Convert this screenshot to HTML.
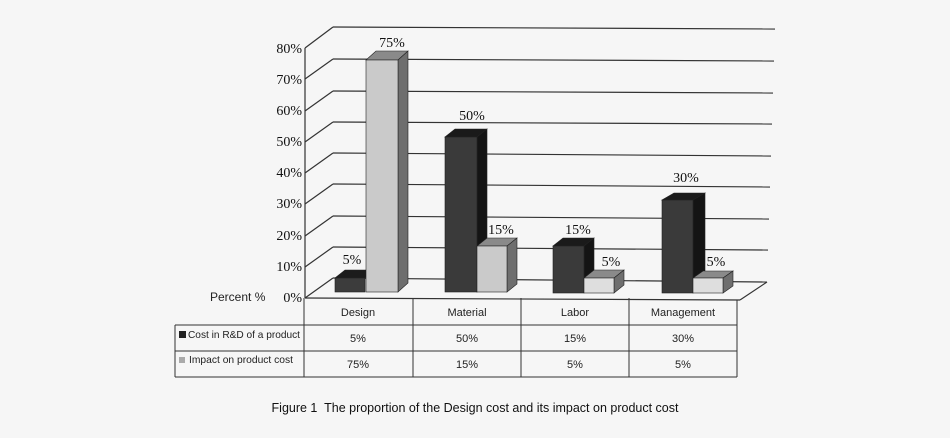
<!DOCTYPE html>
<html><head><meta charset="utf-8"><style>
html,body{margin:0;padding:0;background:#f6f6f6;}
svg{display:block}
.t{font-family:"Liberation Serif",serif;font-size:14px;fill:#111}
.s{font-family:"Liberation Sans",sans-serif;font-size:11px;fill:#222}
</style></head><body>
<svg width="950" height="438" viewBox="0 0 950 438">
<rect width="950" height="438" fill="#f6f6f6"/>
<g stroke="#333" stroke-width="1.2" fill="none">
<line x1="333" y1="27" x2="775" y2="29"/>
<line x1="333" y1="59" x2="774" y2="61"/>
<line x1="333" y1="91" x2="773" y2="93"/>
<line x1="333" y1="122" x2="772" y2="124"/>
<line x1="333" y1="153" x2="771" y2="156"/>
<line x1="333" y1="184" x2="770" y2="187"/>
<line x1="333" y1="216" x2="769" y2="219"/>
<line x1="333" y1="247" x2="768" y2="250"/>
<line x1="333" y1="278" x2="767" y2="282"/>
<line x1="305" y1="48" x2="333" y2="27"/>
<line x1="305" y1="79" x2="333" y2="59"/>
<line x1="305" y1="111" x2="333" y2="91"/>
<line x1="305" y1="142" x2="333" y2="122"/>
<line x1="305" y1="173" x2="333" y2="153"/>
<line x1="305" y1="204" x2="333" y2="184"/>
<line x1="305" y1="236" x2="333" y2="216"/>
<line x1="305" y1="267" x2="333" y2="247"/>
<line x1="305" y1="298" x2="333" y2="278"/>
<line x1="305" y1="48" x2="305" y2="298"/>
<line x1="305" y1="298" x2="740" y2="300"/>
<line x1="740" y1="300" x2="767" y2="282"/>
</g>
<g stroke="#222" stroke-width="0.6">
<polygon points="335,278 365,278 375,270 345,270" fill="#1c1c1c"/>
<rect x="335" y="278" width="30" height="14" fill="#3c3c3c"/>
<polygon points="366,60 398,60 408,51 376,51" fill="#8a8a8a"/>
<polygon points="398,60 408,51 408,283 398,292" fill="#6e6e6e"/>
<rect x="366" y="60" width="32" height="232" fill="#cacaca"/>
<polygon points="445,137 477,137 487,129 455,129" fill="#1a1a1a"/>
<polygon points="477,137 487,129 487,284 477,292" fill="#141414"/>
<rect x="445" y="137" width="32" height="155" fill="#3a3a3a"/>
<polygon points="477,246 507,246 517,238 487,238" fill="#8a8a8a"/>
<polygon points="507,246 517,238 517,284 507,292" fill="#6e6e6e"/>
<rect x="477" y="246" width="30" height="46" fill="#cacaca"/>
<polygon points="553,246 584,246 594,238 563,238" fill="#1a1a1a"/>
<polygon points="584,246 594,238 594,284 584,292" fill="#141414"/>
<rect x="553" y="246" width="31" height="47" fill="#3a3a3a"/>
<polygon points="584,278 614,278 624,270 594,270" fill="#8a8a8a"/>
<polygon points="614,278 624,270 624,285 614,293" fill="#6e6e6e"/>
<rect x="584" y="278" width="30" height="15" fill="#dedede"/>
<polygon points="662,200 693,200 705,193 674,193" fill="#1a1a1a"/>
<polygon points="693,200 705,193 705,285 693,293" fill="#141414"/>
<rect x="662" y="200" width="31" height="93" fill="#3a3a3a"/>
<polygon points="693,278 723,278 733,271 703,271" fill="#8a8a8a"/>
<polygon points="723,278 733,271 733,286 723,293" fill="#6e6e6e"/>
<rect x="693" y="278" width="30" height="15" fill="#dedede"/>
</g>
<g class="t" text-anchor="end">
<text x="302" y="53">80%</text><text x="302" y="84">70%</text>
<text x="302" y="115">60%</text><text x="302" y="146">50%</text>
<text x="302" y="177">40%</text><text x="302" y="208">30%</text>
<text x="302" y="240">20%</text><text x="302" y="271">10%</text>
<text x="302" y="302">0%</text>
</g>
<text class="s" x="210" y="301" style="font-size:12px">Percent %</text>
<g class="t" text-anchor="middle">
<text x="352" y="264">5%</text><text x="392" y="47">75%</text>
<text x="472" y="120">50%</text><text x="501" y="234">15%</text>
<text x="578" y="234">15%</text><text x="611" y="266">5%</text>
<text x="686" y="182">30%</text><text x="716" y="266">5%</text>
</g>
<g stroke="#333" stroke-width="1" fill="none">
<line x1="304" y1="298" x2="304" y2="377"/>
<line x1="413" y1="298" x2="413" y2="377"/>
<line x1="521" y1="298" x2="521" y2="377"/>
<line x1="629" y1="298" x2="629" y2="377"/>
<line x1="737" y1="300" x2="737" y2="377"/>
<line x1="175" y1="325" x2="737" y2="325"/>
<line x1="175" y1="351" x2="737" y2="351"/>
<line x1="175" y1="377" x2="737" y2="377"/>
<line x1="175" y1="325" x2="175" y2="377"/>
</g>
<rect x="179" y="331" width="7" height="7" fill="#222"/>
<rect x="179" y="357" width="6" height="6" fill="#aaa"/>
<g class="s" text-anchor="middle">
<text x="358" y="316">Design</text><text x="467" y="316">Material</text>
<text x="575" y="316">Labor</text><text x="683" y="316">Management</text>
<text x="358" y="342">5%</text><text x="467" y="342">50%</text>
<text x="575" y="342">15%</text><text x="683" y="342">30%</text>
<text x="358" y="368">75%</text><text x="467" y="368">15%</text>
<text x="575" y="368">5%</text><text x="683" y="368">5%</text>
</g>
<text class="s" x="188" y="338" textLength="112" lengthAdjust="spacingAndGlyphs" style="font-size:10.5px">Cost in R&amp;D of a product</text>
<text class="s" x="189" y="363" textLength="104" lengthAdjust="spacingAndGlyphs" style="font-size:10.5px">Impact on product cost</text>
<text class="s" x="475" y="412" text-anchor="middle" xml:space="preserve" style="font-size:12.5px;fill:#111">Figure 1  The proportion of the Design cost and its impact on product cost</text>
</svg>
</body></html>
